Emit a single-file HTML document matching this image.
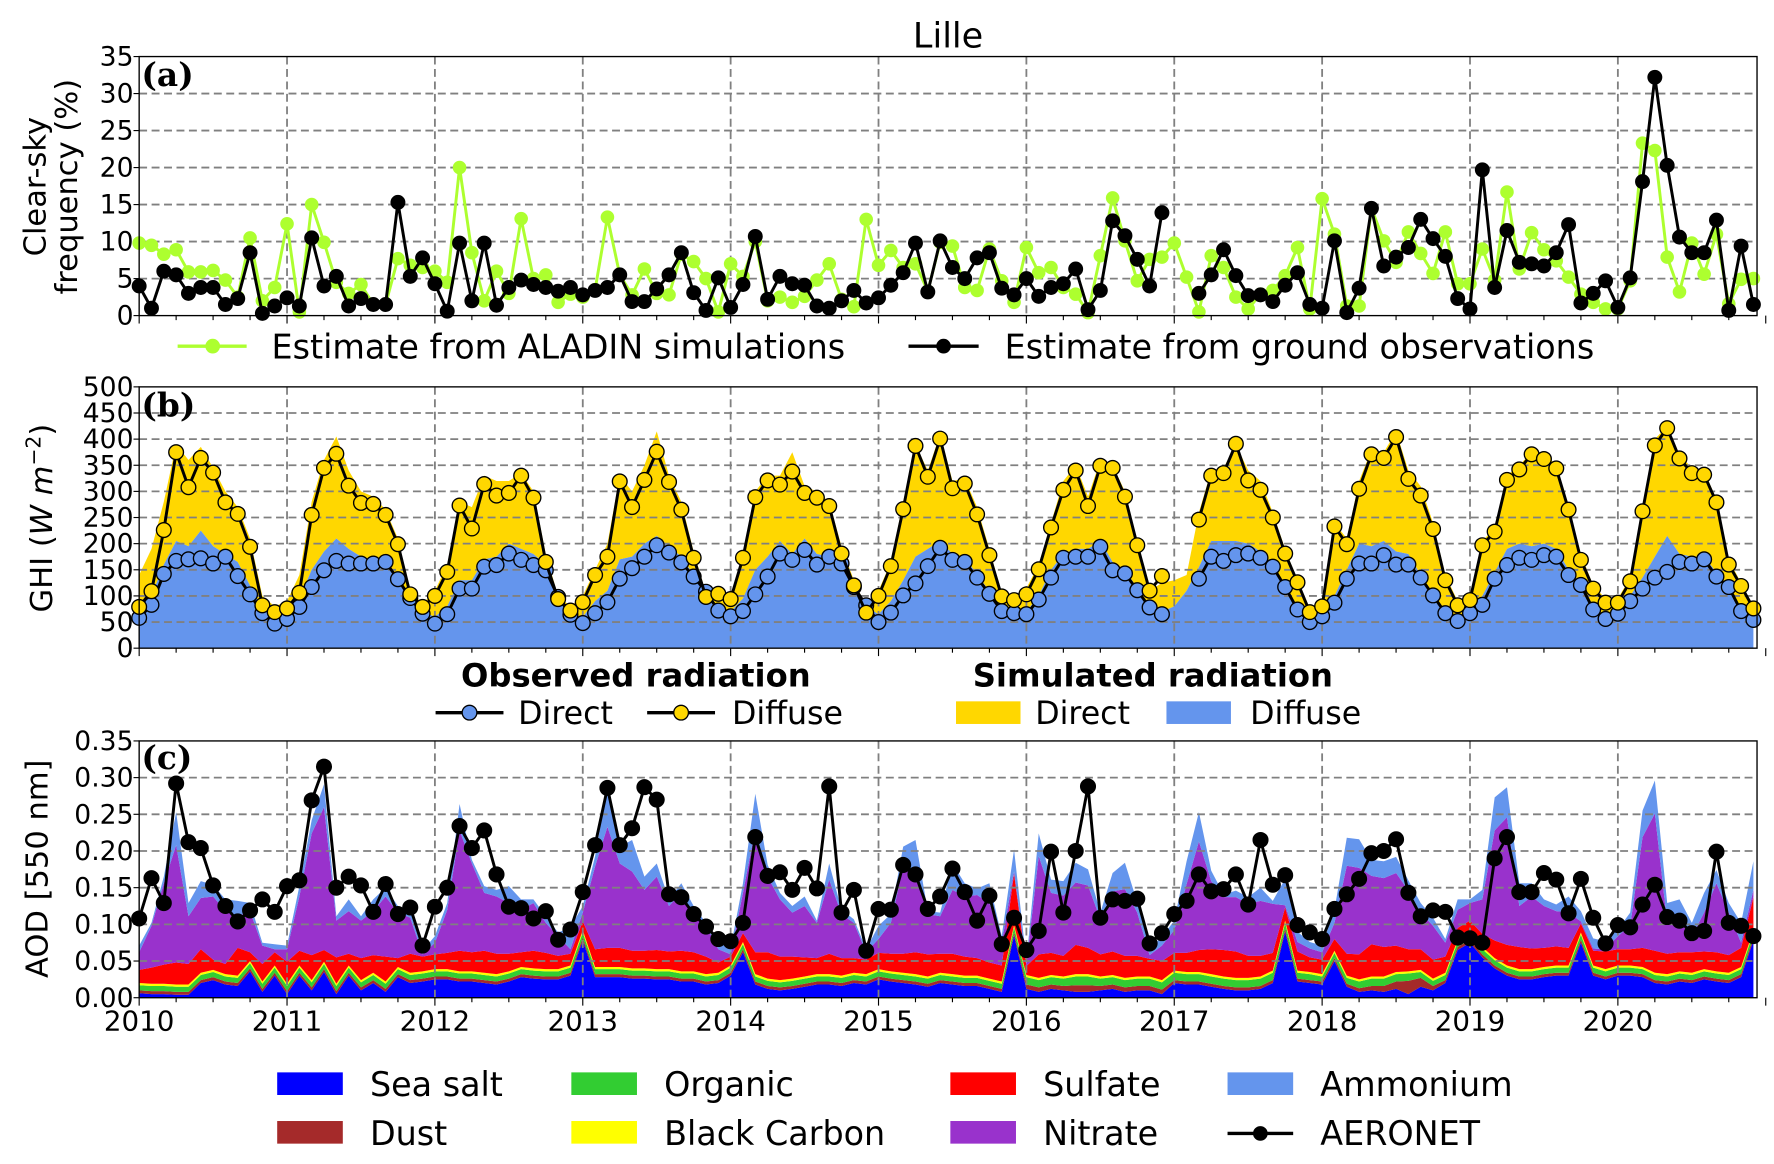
<!DOCTYPE html>
<html><head><meta charset="utf-8"><title>Lille</title>
<style>
html,body{margin:0;padding:0;background:#fff;}
svg{display:block;font-family:"DejaVu Sans","Liberation Sans",sans-serif;}
</style></head>
<body>
<svg id="fig" xmlns="http://www.w3.org/2000/svg" width="1774" height="1164" viewBox="0 0 1568 1029" preserveAspectRatio="none">
<text x="838" y="42" font-size="31" text-anchor="middle">Lille</text>
<g id="pa"></g>
<g id="pb"></g>
<g id="pc"></g>
<g id="legends"></g>
</svg>
<script>
// ---------- DATA ----------
const years = ["2010","2011","2012","2013","2014","2015","2016","2017","2018","2019","2020"];
const ticksA = [0,5,10,15,20,25,30,35];
const ticksB = [0,50,100,150,200,250,300,350,400,450,500];
const ticksC = [0,0.05,0.10,0.15,0.20,0.25,0.30,0.35];
const ticksCLabels = ["0.00","0.05","0.10","0.15","0.20","0.25","0.30","0.35"];

const aladin = [9.8,9.5,8.3,8.9,5.9,5.9,6.1,4.8,2.5,10.5,2,3.8,
12.4,0.5,15,9.9,4.5,3,4.2,1.5,1.5,7.7,6.8,6.5,
6,4.5,20,8.5,2,6,3,13.1,5,5.5,1.8,2.9,
2.5,3.5,13.3,5.5,2.8,6.3,3,2.8,8.3,7.3,5,0.5,
7,5.3,10,2,2.5,1.8,2.6,4.8,7,2.2,1.2,13,
6.8,8.8,6.5,7,3.3,9.9,9.4,3.8,3.4,9,4.7,1.8,
9.2,5.8,6.5,3.8,2.9,0.4,8.1,15.9,10.1,4.7,7.6,7.9,
9.8,5.2,0.5,8.1,6.5,2.5,0.9,2.9,3.4,5.4,9.2,0.9,
15.8,11,1.3,1.3,14.5,10.1,7.2,11.3,8.4,5.7,11.3,4.3,
4.3,9,4.8,16.7,6.3,11.2,8.9,7.4,5.2,2.9,1.8,0.9,
0.9,4.7,23.3,22.3,7.9,3.2,9.8,5.6,11,1.6,4.9,5];
const ground = [4,1,6,5.5,3,3.8,3.8,1.5,2.3,8.5,0.3,1.3,
2.4,1.3,10.5,4,5.3,1.3,2.3,1.5,1.5,15.3,5.3,7.8,
4.3,0.6,9.8,2,9.8,1.4,3.8,4.8,4.2,3.8,3.3,3.8,
2.8,3.4,3.8,5.5,1.9,1.9,3.6,5.5,8.5,3.1,0.7,5.1,
1.1,4.2,10.7,2.2,5.3,4.3,4.1,1.3,1,2,3.4,1.7,
2.4,4.1,5.8,9.8,3.2,10.1,6.5,5,7.8,8.5,3.7,2.8,
5,2.6,3.8,4.3,6.3,0.8,3.4,12.8,10.8,7.6,4,13.9,
null,null,3,5.5,8.9,5.4,2.7,2.8,1.9,4.1,5.8,1.5,
1,10.1,0.4,3.7,14.5,6.7,7.9,9.2,13,10.4,8,2.3,
0.9,19.7,3.8,11.5,7.2,7,6.7,8.5,12.3,1.7,3,4.7,
1.1,5.1,18.1,32.2,20.3,10.6,8.5,8.5,12.9,0.7,9.4,1.5];

const obsTotal = [79,109,226,375,308,364,336,279,257,194,82,69,
76,106,255,345,372,311,278,276,255,199,103,79,
100,146,273,229,314,292,297,330,288,165,94,72,
88,140,175,319,270,322,376,318,265,173,98,104,
94,173,289,321,313,338,297,288,272,181,120,68,
100,157,266,387,328,401,306,315,256,178,99,92,
103,151,231,303,340,272,349,345,290,197,110,138,
null,null,246,330,335,391,321,303,250,181,126,69,
80,233,199,305,371,364,404,324,292,228,130,82,
92,197,223,322,342,371,362,344,265,169,114,87,
87,128,262,388,421,363,335,332,279,160,119,76];
const obsDirect = [58,83,142,167,170,172,162,175,138,103,67,47,
56,79,117,149,167,162,162,162,165,132,96,66,
47,65,114,114,156,159,181,169,159,149,98,64,
48,67,88,133,153,175,197,183,164,137,108,72,
61,71,103,137,181,169,188,160,175,162,117,82,
50,68,101,124,157,192,169,165,135,104,71,67,
65,93,135,173,175,175,194,149,143,111,78,65,
null,null,133,175,167,178,181,173,156,117,74,50,
61,87,133,162,162,178,160,160,135,101,67,52,
67,83,133,159,173,169,178,175,140,121,74,56,
66,90,114,135,146,165,162,170,137,117,71,54];
const simDiffuse = [70,100,160,205,195,225,195,180,165,120,75,60,
65,95,150,185,210,190,175,170,160,135,90,70,
60,80,130,130,170,175,200,190,180,160,100,65,
60,90,110,170,175,200,215,195,175,140,100,70,
70,95,150,175,205,180,210,180,175,165,120,80,
65,90,130,175,190,205,180,175,140,110,75,65,
70,100,150,180,190,190,205,165,150,115,80,70,
80,110,155,205,205,205,200,185,160,120,80,55,
65,100,150,200,195,205,185,180,140,105,70,55,
70,100,145,190,200,195,200,190,150,125,80,60,
70,100,135,175,215,180,175,175,145,115,75,55];
const simTotal = [140,190,280,390,360,385,345,300,270,210,100,80,
90,140,280,360,405,340,300,290,265,210,110,85,
110,160,280,270,330,320,320,335,300,180,100,80,
100,150,200,330,300,350,415,330,280,185,105,95,
100,180,300,330,330,375,310,300,280,195,130,75,
110,165,280,390,340,410,320,325,270,190,105,90,
115,160,240,320,350,290,360,350,300,205,110,125,
130,140,260,340,345,390,340,320,260,190,130,75,
90,240,210,320,380,375,415,340,310,240,140,90,
100,205,230,330,350,375,375,350,270,180,120,95,
95,135,270,400,425,370,345,340,285,170,125,80];

const seaSalt = [.006,.005,.005,.004,.004,.020,.024,.018,.016,.036,.008,.030,
.005,.030,.010,.035,.005,.030,.010,.020,.008,.028,.020,.022,
.025,.025,.022,.022,.020,.018,.022,.028,.026,.025,.025,.030,
.078,.028,.028,.028,.026,.026,.025,.025,.022,.022,.018,.020,
.030,.062,.018,.012,.010,.012,.015,.018,.018,.016,.020,.018,
.025,.022,.020,.018,.015,.020,.018,.016,.016,.012,.008,.085,
.012,.008,.012,.010,.008,.008,.010,.012,.008,.010,.010,.005,
.020,.018,.018,.015,.012,.010,.010,.012,.020,.090,.022,.020,
.018,.050,.015,.008,.010,.008,.012,.005,.015,.010,.020,.065,
.075,.055,.040,.030,.025,.025,.028,.030,.030,.075,.030,.025,
.030,.030,.028,.020,.018,.022,.020,.025,.022,.020,.028,.078];
const dust = [.004,.004,.004,.004,.004,.004,.004,.004,.004,.004,.004,.004,
.004,.004,.004,.004,.004,.004,.004,.004,.004,.004,.004,.004,
.004,.004,.004,.004,.004,.004,.004,.004,.004,.004,.004,.004,
.004,.004,.004,.004,.004,.004,.004,.004,.004,.004,.004,.004,
.004,.004,.004,.004,.004,.004,.004,.004,.004,.004,.004,.004,
.004,.004,.004,.004,.004,.004,.004,.004,.004,.004,.004,.004,
.006,.006,.006,.006,.009,.009,.006,.006,.006,.006,.006,.006,
.004,.004,.004,.004,.004,.004,.004,.004,.004,.004,.004,.004,
.004,.004,.004,.005,.006,.008,.010,.018,.012,.006,.004,.004,
.004,.004,.004,.004,.004,.004,.004,.004,.004,.004,.004,.004,
.004,.004,.004,.004,.004,.004,.004,.004,.004,.004,.004,.004];
const organic = [.007,.007,.007,.007,.007,.007,.007,.007,.007,.007,.007,.007,
.007,.007,.007,.007,.007,.007,.007,.007,.007,.007,.007,.007,
.007,.007,.007,.007,.007,.007,.007,.007,.007,.007,.007,.007,
.007,.007,.007,.007,.007,.007,.007,.007,.007,.007,.007,.007,
.007,.007,.007,.007,.007,.007,.007,.007,.007,.007,.007,.007,
.007,.007,.007,.007,.007,.007,.007,.007,.007,.007,.007,.007,
.010,.010,.010,.010,.012,.012,.010,.010,.010,.010,.010,.010,
.010,.010,.010,.010,.010,.010,.010,.010,.010,.008,.008,.008,
.007,.007,.008,.009,.010,.010,.010,.010,.008,.007,.007,.007,
.007,.007,.007,.007,.007,.007,.007,.007,.007,.007,.007,.007,
.007,.007,.007,.007,.007,.007,.007,.007,.007,.007,.007,.007];
const blackCarbon = [.003,.003,.003,.003,.003,.003,.003,.003,.003,.003,.003,.003,
.003,.003,.003,.003,.003,.003,.003,.003,.003,.003,.003,.003,
.003,.003,.003,.003,.003,.003,.003,.003,.003,.003,.003,.003,
.003,.003,.003,.003,.003,.003,.003,.003,.003,.003,.003,.003,
.003,.003,.003,.003,.003,.003,.003,.003,.003,.003,.003,.003,
.003,.003,.003,.003,.003,.003,.003,.003,.003,.003,.003,.003,
.003,.003,.003,.003,.003,.003,.003,.003,.003,.003,.003,.003,
.003,.003,.003,.003,.003,.003,.003,.003,.003,.003,.003,.003,
.003,.003,.003,.003,.003,.003,.003,.003,.003,.003,.003,.003,
.003,.003,.003,.003,.003,.003,.003,.003,.003,.003,.003,.003,
.003,.003,.003,.003,.003,.003,.003,.003,.003,.003,.003,.003];
const sulfate = [.018,.022,.026,.030,.028,.032,.014,.014,.038,.012,.024,.018,
.030,.020,.034,.016,.036,.016,.030,.024,.034,.012,.026,.020,
.020,.022,.028,.026,.030,.028,.024,.020,.024,.022,.018,.016,
.012,.024,.026,.026,.024,.024,.026,.024,.028,.026,.024,.014,
.012,.012,.030,.036,.032,.030,.026,.022,.028,.024,.020,.020,
.022,.024,.026,.030,.030,.026,.028,.026,.024,.022,.022,.070,
.012,.032,.030,.028,.040,.036,.030,.032,.030,.028,.024,.026,
.024,.026,.030,.034,.036,.036,.030,.028,.024,.018,.026,.020,
.020,.016,.030,.034,.044,.040,.036,.030,.028,.026,.022,.016,
.016,.018,.024,.028,.030,.028,.026,.026,.024,.012,.020,.024,
.022,.022,.026,.030,.028,.026,.028,.024,.026,.024,.026,.045];
const nitrate = [.024,.057,.111,.160,.065,.070,.086,.072,.043,.056,.025,.004,
.017,.074,.166,.195,.050,.058,.051,.060,.082,.062,.049,.003,
.016,.059,.164,.121,.079,.078,.069,.058,.065,.041,.027,.006,
.012,.113,.165,.115,.108,.083,.100,.062,.079,.049,.042,.018,
.003,.055,.168,.103,.078,.060,.070,.048,.101,.060,.048,.010,
.019,.042,.119,.108,.055,.051,.087,.082,.086,.081,.031,.003,
.003,.134,.082,.082,.085,.085,.048,.082,.091,.059,.005,.021,
.031,.094,.148,.093,.072,.074,.071,.075,.067,.003,.013,.012,
.010,.022,.120,.118,.093,.094,.099,.080,.050,.046,.019,.025,
.024,.047,.150,.174,.056,.071,.057,.048,.048,.003,.003,.003,
.018,.032,.151,.187,.042,.054,.022,.053,.094,.058,.007,.010];
const ammonium = [.009,.004,.009,.045,.018,.023,.016,.016,.021,.011,.004,.007,
.005,.014,.018,.031,.006,.016,.006,.016,.012,.009,.011,.005,
.009,.009,.036,.005,.009,.009,.023,.014,.005,.009,.005,.030,
.009,.014,.054,.023,.043,.018,.018,.009,.013,.014,.004,.009,
.009,.013,.048,.016,.009,.009,.013,.003,.022,.006,.005,.004,
.018,.012,.027,.045,.004,.005,.036,.018,.009,.027,.009,.030,
.004,.031,.018,.020,.027,.022,.009,.025,.036,.014,.009,.012,
.013,.031,.040,.014,.004,.009,.009,.018,.004,.036,.014,.009,
.009,.018,.038,.039,.022,.023,.022,.014,.013,.011,.005,.014,
.005,.013,.045,.041,.031,.018,.009,.009,.022,.014,.014,.011,
.009,.018,.036,.045,.027,.018,.018,.027,.018,.013,.027,.039];
const aeronet = [.108,.163,.129,.292,.212,.204,.153,.125,.104,.119,.134,.117,
.152,.160,.269,.315,.150,.165,.153,.117,.155,.114,.123,.071,
.124,.150,.234,.204,.228,.168,.124,.122,.108,.118,.079,.093,
.144,.208,.286,.208,.231,.287,.270,.141,.137,.114,.097,.080,
.077,.102,.219,.166,.171,.147,.177,.149,.288,.116,.147,.064,
.121,.120,.181,.168,.121,.138,.176,.144,.105,.139,.073,.109,
.065,.091,.199,.116,.200,.288,.109,.134,.132,.135,.074,.088,
.114,.132,.168,.145,.148,.168,.127,.215,.154,.167,.099,.089,
.080,.121,.141,.162,.197,.200,.216,.143,.111,.119,.117,.082,
.081,.075,.190,.219,.144,.144,.170,.161,.115,.162,.109,.074,
.099,.096,.127,.154,.110,.105,.088,.091,.199,.102,.098,.084];

// ---------- LAYOUT ----------
const NS = "http://www.w3.org/2000/svg";
const X0 = 123, X1 = 1553, XJ2020 = 1430;
const perMonth = (XJ2020 - X0) / 120;
function xS(i){ return X0 + i * perMonth; }
const A = {top:50, bot:279, max:35};
const B = {top:342, bot:573, max:500};
const C = {top:655, bot:882, max:0.35};
function yS(p, v){ return p.bot - v / p.max * (p.bot - p.top); }

function el(tag, attrs, parent){
  const e = document.createElementNS(NS, tag);
  for (const k in attrs) e.setAttribute(k, attrs[k]);
  parent.appendChild(e);
  return e;
}

function frame(g, p, ticks, labels, name){
  for (let k = 1; k < years.length; k++){
    const x = xS(k*12);
    const ln = el('line', {x1:x, x2:x, y1:p.top, y2:p.bot, stroke:'#808080', 'stroke-width':1.6, 'stroke-dasharray':'7,4'}, g);
    
    
  }
  ticks.forEach((t, j) => {
    const y = yS(p, t);
    if (j > 0 && j < ticks.length - 1){
      const ln = el('line', {x1:X0, x2:X1, y1:y, y2:y, stroke:'#808080', 'stroke-width':1.6, 'stroke-dasharray':'7,4'}, g);
      
      
    }
    el('line', {x1:X0-5, x2:X0, y1:y, y2:y, stroke:'#000', 'stroke-width':1}, g);
    const tx = el('text', {x:X0-5, y:y+8, 'font-size':23.5, 'text-anchor':'end'}, g);
    tx.textContent = labels[j];
    
    
  });
  for (let i = 0; i <= 132; i += 3){
    const major = i % 12 === 0;
    el('line', {x1:xS(i), x2:xS(i), y1:p.bot, y2:p.bot + (major ? 7 : 4), stroke:'#000', 'stroke-width':1}, g);
  }
}
function axesBox(g, p, name){
  const r = el('rect', {x:X0, y:p.top, width:X1-X0, height:p.bot-p.top, fill:'none', stroke:'#000', 'stroke-width':1.2}, g);
  
  
}
function pathFor(arr, p){
  let d = '', pen = false;
  arr.forEach((v, i) => {
    if (v === null){ pen = false; return; }
    d += (pen ? 'L' : 'M') + xS(i).toFixed(1) + ',' + yS(p, v).toFixed(1);
    pen = true;
  });
  return d;
}
function series(g, arr, p, color, fill, r, name){
  const pa = el('path', {d:pathFor(arr, p), fill:'none', stroke:color, 'stroke-width':2.6, 'stroke-linejoin':'round'}, g);
  
  
  arr.forEach((v, i) => {
    if (v === null) return;
    const c = el('circle', {cx:xS(i), cy:yS(p, v), r:r, fill:fill, stroke:color === '#adff2f' ? 'none' : '#000', 'stroke-width':1.2}, g);
    
    
  });
}
function area(g, lower, upper, p, color, name){
  let d = 'M' + xS(0) + ',' + yS(p, upper[0]);
  for (let i = 1; i < upper.length; i++) d += 'L' + xS(i).toFixed(1) + ',' + yS(p, upper[i]).toFixed(1);
  for (let i = lower.length - 1; i >= 0; i--) d += 'L' + xS(i).toFixed(1) + ',' + yS(p, lower[i]).toFixed(1);
  const pa = el('path', {d:d + 'Z', fill:color, stroke:'none'}, g);
  
  
}

// ---------- PANEL A ----------
const ga = document.getElementById('pa');
frame(ga, A, ticksA, ticksA.map(String), 'panel-a');
series(ga, aladin, A, '#adff2f', '#adff2f', 6, 'aladin-estimate');
series(ga, ground, A, '#000', '#000', 6, 'ground-estimate');
axesBox(ga, A, 'panel-a');

// ---------- PANEL B ----------
const gb = document.getElementById('pb');
const zeros = simTotal.map(() => 0);
const simTopClamped = simTotal.map((v, i) => Math.max(v, simDiffuse[i]));
area(gb, simDiffuse, simTopClamped, B, '#ffd700', 'simulated-direct-area');
area(gb, zeros, simDiffuse, B, '#6495ed', 'simulated-diffuse-area');
frame(gb, B, ticksB, ticksB.map(String), 'panel-b');
series(gb, obsDirect, B, '#000', '#6495ed', 6.5, 'observed-direct');
series(gb, obsTotal, B, '#000', '#ffd700', 6.5, 'observed-diffuse');
axesBox(gb, B, 'panel-b');

// ---------- PANEL C ----------
const gc = document.getElementById('pc');
const layers = [
  [seaSalt, '#0000ff', 'sea-salt-area'],
  [dust, '#a52a2a', 'dust-area'],
  [organic, '#32cd32', 'organic-area'],
  [blackCarbon, '#ffff00', 'black-carbon-area'],
  [sulfate, '#ff0000', 'sulfate-area'],
  [nitrate, '#9932cc', 'nitrate-area'],
  [ammonium, '#6495ed', 'ammonium-area']
];
let cum = seaSalt.map(() => 0);
layers.forEach(([arr, col, nm]) => {
  const up = cum.map((v, i) => v + arr[i]);
  area(gc, cum, up, C, col, nm);
  cum = up;
});
frame(gc, C, ticksC, ticksCLabels, 'panel-c');
series(gc, aeronet, C, '#000', '#000', 6.5, 'aeronet');
axesBox(gc, C, 'panel-c');
years.forEach((yr, k) => {
  const t = el('text', {x:xS(k*12), y:911, 'font-size':24.5, 'text-anchor':'middle'}, gc);
  t.textContent = yr;
  
  
});
</script>
<script>
(function(){
  const NS = "http://www.w3.org/2000/svg";
  const g = document.getElementById('legends');
  function el(tag, attrs, txt){
    const e = document.createElementNS(NS, tag);
    for (const k in attrs) e.setAttribute(k, attrs[k]);
    if (txt) e.textContent = txt;
    g.appendChild(e);
    return e;
  }
  let t;
  t = el('text', {x:125, y:76, 'font-size':29, 'font-weight':'bold', 'font-family':'"DejaVu Serif","Liberation Serif",serif'}, '(a)');
   
  t = el('text', {x:125, y:368, 'font-size':29, 'font-weight':'bold', 'font-family':'"DejaVu Serif","Liberation Serif",serif'}, '(b)');
   
  t = el('text', {x:125, y:680, 'font-size':29, 'font-weight':'bold', 'font-family':'"DejaVu Serif","Liberation Serif",serif'}, '(c)');
   

  t = el('text', {x:0, y:0, 'font-size':27, 'text-anchor':'middle', transform:'translate(40,165) rotate(-90)'}, 'Clear-sky');
   
  t = el('text', {x:0, y:0, 'font-size':27, 'text-anchor':'middle', transform:'translate(68,165) rotate(-90)'}, 'frequency (%)');
   
  t = el('text', {x:0, y:0, 'font-size':27, 'text-anchor':'middle', transform:'translate(46,458) rotate(-90)'}, '');
  t.innerHTML = 'GHI (<tspan font-style="italic">W m</tspan><tspan font-size="18" dy="-10">−2</tspan><tspan dy="10">)</tspan>';
   
  t = el('text', {x:0, y:0, 'font-size':27, 'text-anchor':'middle', transform:'translate(42,768) rotate(-90)'}, 'AOD [550 nm]');
   

  // legend a
  el('line', {x1:157, x2:218, y1:306, y2:306, stroke:'#adff2f', 'stroke-width':3});
  t = el('circle', {cx:188, cy:306, r:6.5, fill:'#adff2f'});
   
  t = el('text', {x:240, y:317, 'font-size':29.5}, 'Estimate from ALADIN simulations');
   
  el('line', {x1:803, x2:865, y1:306, y2:306, stroke:'#000', 'stroke-width':3});
  t = el('circle', {cx:834, cy:306, r:6.5, fill:'#000'});
   
  t = el('text', {x:888, y:317, 'font-size':29.5}, 'Estimate from ground observations');
   

  // legend b
  t = el('text', {x:562, y:607, 'font-size':28.5, 'font-weight':'bold', 'text-anchor':'middle'}, 'Observed radiation');
   
  t = el('text', {x:1019, y:607, 'font-size':28.5, 'font-weight':'bold', 'text-anchor':'middle'}, 'Simulated radiation');
   
  el('line', {x1:385, x2:445, y1:630, y2:630, stroke:'#000', 'stroke-width':3});
  el('circle', {cx:415, cy:630, r:6.5, fill:'#6495ed', stroke:'#000', 'stroke-width':1.2});
  t = el('text', {x:458, y:640, 'font-size':28}, 'Direct');
   
  el('line', {x1:572, x2:632, y1:630, y2:630, stroke:'#000', 'stroke-width':3});
  el('circle', {cx:602, cy:630, r:6.5, fill:'#ffd700', stroke:'#000', 'stroke-width':1.2});
  t = el('text', {x:647, y:640, 'font-size':28}, 'Diffuse');
   
  t = el('rect', {x:845, y:620, width:57, height:20, fill:'#ffd700'});
   
  t = el('text', {x:915, y:640, 'font-size':28}, 'Direct');
   
  t = el('rect', {x:1031, y:620, width:57, height:20, fill:'#6495ed'});
   
  t = el('text', {x:1105, y:640, 'font-size':28}, 'Diffuse');
   

  // legend c
  const items = [
    [245, 959, '#0000ff', 'Sea salt', 'legend-sea-salt'],
    [505, 959, '#32cd32', 'Organic', 'legend-organic'],
    [840, 959, '#ff0000', 'Sulfate', 'legend-sulfate'],
    [1085, 959, '#6495ed', 'Ammonium', 'legend-ammonium'],
    [245, 1002, '#a52a2a', 'Dust', 'legend-dust'],
    [505, 1002, '#ffff00', 'Black Carbon', 'legend-black-carbon'],
    [840, 1002, '#9932cc', 'Nitrate', 'legend-nitrate']
  ];
  items.forEach(([x, y, c, lab, nm]) => {
    const r = el('rect', {x:x, y:y-11, width:58, height:20, fill:c});
     
    const tx = el('text', {x:x+82, y:y+10, 'font-size':29.5}, lab);
     
  });
  el('line', {x1:1085, x2:1143, y1:1002, y2:1002, stroke:'#000', 'stroke-width':3});
  el('circle', {cx:1114, cy:1002, r:6.5, fill:'#000'});
  t = el('text', {x:1167, y:1012, 'font-size':29.5}, 'AERONET');
   
})();
</script>
</body></html>
